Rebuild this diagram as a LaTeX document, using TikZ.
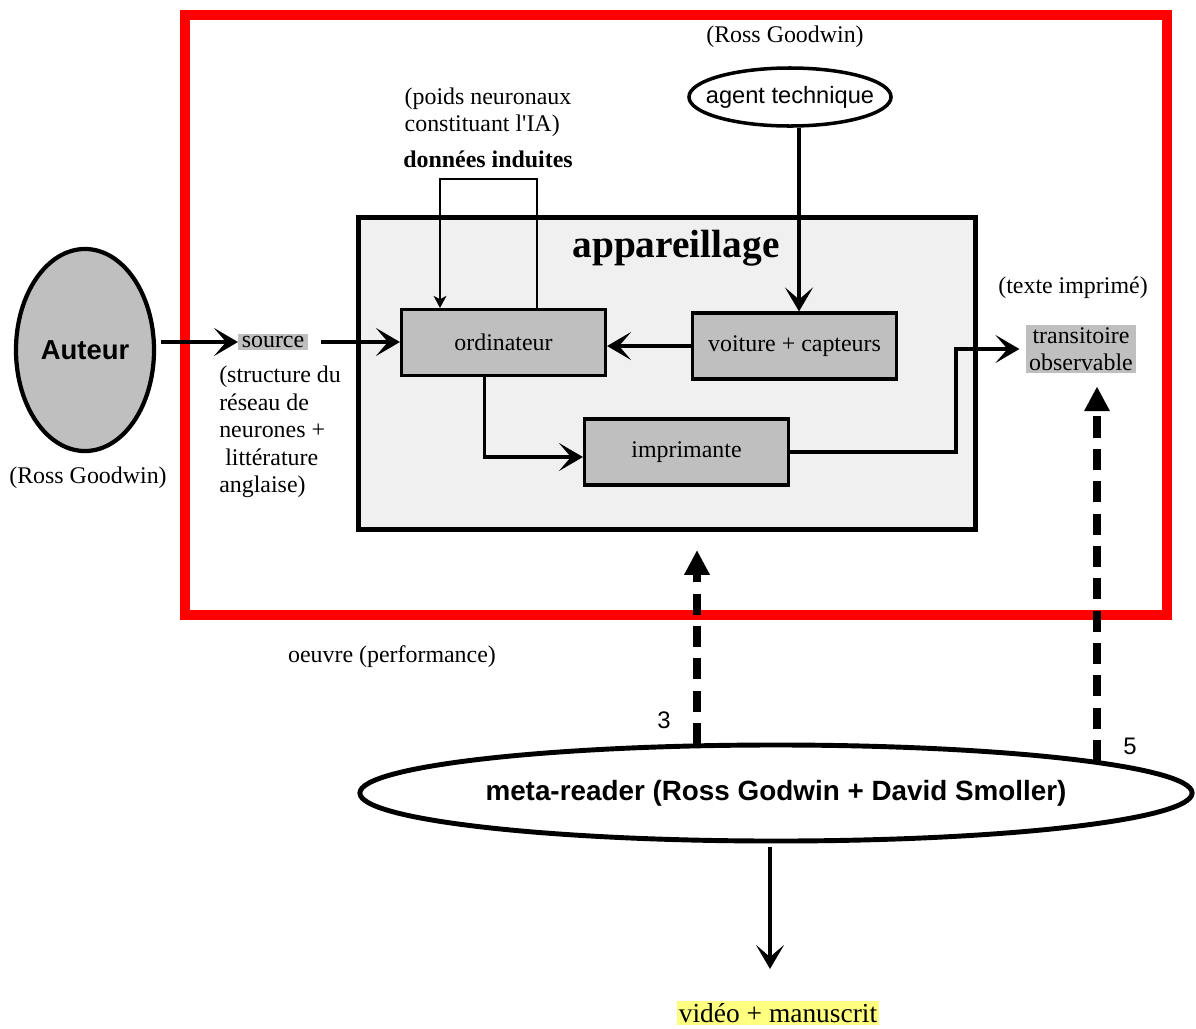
\documentclass[tikz,border=0pt]{standalone}
\usepackage{fontspec}
\setmainfont{Liberation Serif}
\setsansfont{Liberation Sans}
\usepackage{tikz}
\usetikzlibrary{positioning,calc}
\usetikzlibrary{arrows.meta,shapes.geometric}
\definecolor{framered}{rgb}{1.0, 0.0, 0.0}
\definecolor{boxgray}{rgb}{0.75, 0.75, 0.75}
\definecolor{appgray}{rgb}{0.94, 0.94, 0.94}
\definecolor{hlyellow}{rgb}{1.0, 1.0, 0.5}
\def\big#1{\fontsize{#1}{1.15\dimexpr #1pt\relax}\selectfont}
\tikzstyle{block} = [rectangle, draw=black, line width=2.2pt, fill=boxgray, minimum width=5.1cm, minimum height=1.65cm, inner sep=0pt]
\tikzstyle{hl} = [fill=boxgray, inner xsep=2.5pt, inner ysep=1.5pt]
\tikzstyle{arrow} = [line width=3.5pt, -{Stealth[length=0.6cm, width=0.7cm, inset=0.3cm]}]
\tikzstyle{midarrow} = [line width=2.3pt, -{Stealth[length=0.6cm, width=0.7cm, inset=0.3cm]}]
\tikzstyle{thinarrow} = [line width=1pt, -{Stealth[length=0.3cm, width=0.32cm, inset=0.08cm]}]
\tikzstyle{dasharrow} = [line width=5pt, dash pattern=on 15pt off 8pt, -{Triangle[length=0.62cm, width=0.6cm]}]

\begin{document}
\begin{tikzpicture}[x=0.025cm, y=-0.025cm, every node/.style={font=\fontsize{17}{19.5}\selectfont}]
\useasboundingbox (0,0) rectangle (1196,1028);
\node[draw=framered, line width=7pt, minimum width=24.55cm, minimum height=15cm, inner sep=0pt] (frame) at (676,315) {};
\node[draw=black, line width=3.5pt, fill=appgray, minimum width=15.4cm, minimum height=7.8cm, inner sep=0pt] (app) at (667,373.5) {};
\node (apptitle) at (676,248) {\big{28}\bfseries appareillage};
\node[block] (ordi) at (503.5,342.5) {ordinateur};
\node[block] (voit) at (794.5,346) {voiture + capteurs};
\node[block] (impr) at (686.5,452) {imprimante};
\node[ellipse, draw, line width=3pt, fill=boxgray, minimum width=3.45cm, minimum height=5.05cm, inner sep=0pt] (auteur) at (85,350) {\sffamily\bfseries\big{19.5}Auteur};
\node (auteurnote) at (88,478) {(Ross Goodwin)};
\node[hl] (source) at (273,342) {source};
\node[align=left, anchor=north west, inner sep=0pt] (sourcenote) at (219,366) {(structure du\\réseau de\\neurones +\\\ littérature\\anglaise)};
\node[ellipse, draw, line width=2.5pt, fill=white, minimum width=5.05cm, minimum height=1.45cm, inner xsep=-0.4cm, inner ysep=0pt] (agent) at (790,97) {\sffamily\big{16.8}agent technique};
\node (agentnote) at (785,37) {(Ross Goodwin)};
\node[align=left] (poids) at (488,112) {(poids neuronaux\\constituant l\textquotesingle IA)};
\node (induites) at (488,159) {\bfseries données induites};
\coordinate (loopR) at (537,179);
\coordinate (loopL) at (440,179);
\node (imprnote) at (1073,288) {(texte imprimé)};
\node[hl, align=center] (trans) at (1081,349) {transitoire\\observable};
\node[ellipse, draw, line width=3.5pt, fill=white, minimum width=20.8cm, minimum height=2.4cm, inner sep=0pt] (meta) at (776,793) {\sffamily\bfseries\big{19.8}meta-reader (Ross Godwin + David Smoller)};
\node (lab3) at (664,720) {\sffamily 3};
\node (lab5) at (1130,746) {\sffamily 5};
\node (oeuvre) at (392,657) {oeuvre (performance)};
\node[fill=hlyellow, inner sep=1.5pt] (video) at (778,1013) {\big{19.5}vidéo + manuscrit};
\coordinate (bend) at (956,400);
\draw[arrow, shorten <=0.12cm] (auteur.east |- source.west) -- (source.west);
\draw[arrow, shorten <=0.33cm] (source.east) -- (ordi.west |- source.east);
\draw[arrow] (voit.west) -- (voit.west -| ordi.east);
\draw[arrow] ($(agent.south)+(9,0)$) -- ($(agent.south |- voit.north)+(9,0)$);
\draw[thinarrow] (ordi.north -| loopR) -- (loopR) -- (loopL) -- (ordi.north -| loopL);
\draw[midarrow] ($(ordi.south)+(-19,0)$) |- ($(impr.west)+(0,5)$);
\draw[midarrow, shorten >=0.15cm] (impr.east) -- (impr.east -| bend) -- (bend |- trans.west) -- (trans.west);
\draw[dasharrow, shorten >=0.45cm] ($(meta.center)+(-79,-49)$) -- ($(meta.center |- app.south)+(-79,0)$);
\draw[dasharrow, shorten >=0.33cm] ($(meta.center)+(321,-32)$) -- ($(meta.center |- trans.south)+(321,0)$);
\draw[midarrow, line width=2.8pt] ($(meta.south)+(-6,4)$) -- ($(meta.south |- video.north)+(-6,-32)$);
\end{tikzpicture}
\end{document}
